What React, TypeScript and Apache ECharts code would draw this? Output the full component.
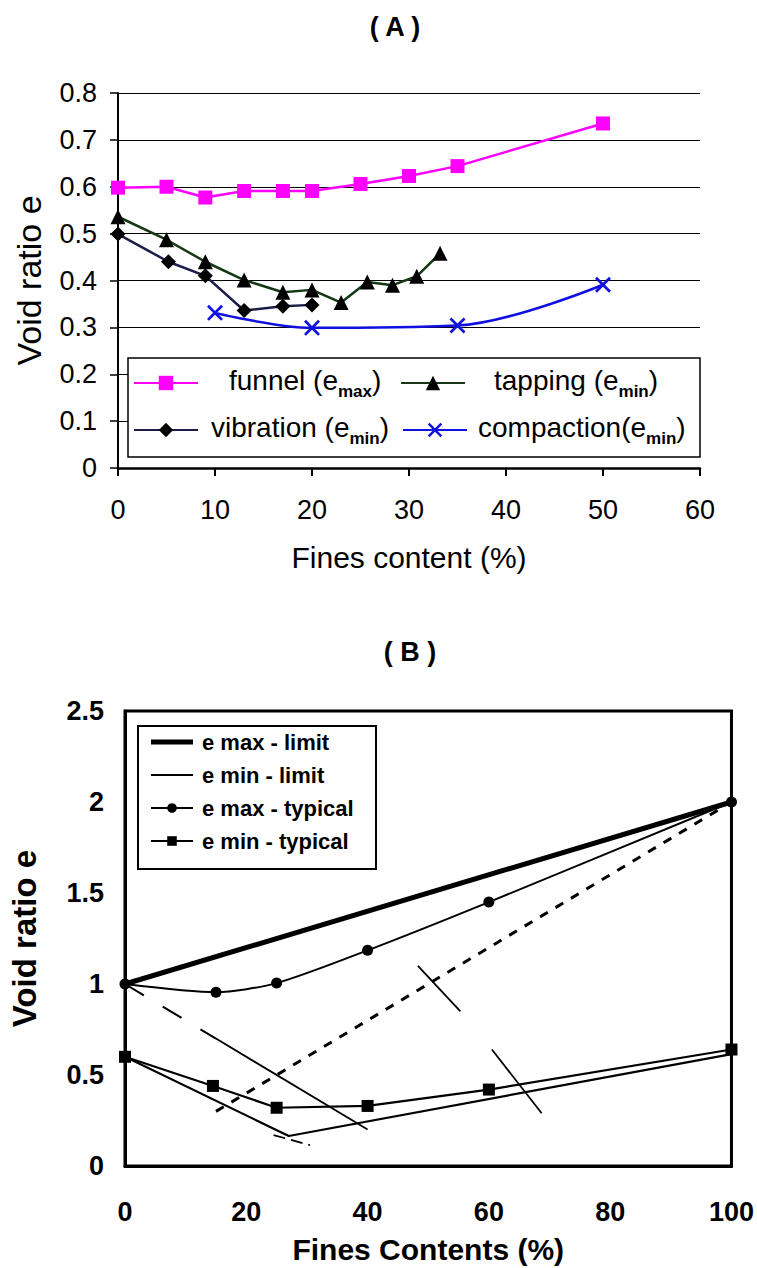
import React, { useEffect, useRef } from 'react';
import * as echarts from 'echarts';

const FONT = "'Liberation Sans', Arial, sans-serif";

// ---------- Panel A data ----------
const funnelX = [0, 5, 9, 13, 17, 20, 25, 30, 35, 50];
const funnelY = [0.598, 0.6, 0.577, 0.591, 0.591, 0.591, 0.606, 0.623, 0.644, 0.735];
const tappingX = [0, 5, 9, 13, 17, 20, 23, 25.7, 28.3, 30.8, 33.2];
const tappingY = [0.536, 0.487, 0.44, 0.401, 0.375, 0.38, 0.353, 0.397, 0.39, 0.409, 0.458];
const vibrationX = [0, 5.2, 9, 13, 17, 20];
const vibrationY = [0.499, 0.44, 0.41, 0.336, 0.345, 0.348];
const compactionX = [10, 20, 35, 50];
const compactionY = [0.331, 0.299, 0.304, 0.391];
const xTicksA = { min: 0, max: 60, interval: 10 };
const yTicksA = { min: 0, max: 0.8, interval: 0.1 };

// ---------- Panel B data ----------
const emaxLimitX = [0, 100];
const emaxLimitY = [1.0, 2.0];
const eminLimitX = [0, 27, 100];
const eminLimitY = [0.6, 0.165, 0.615];
const emaxTypX = [0, 15, 25, 40, 60, 100];
const emaxTypY = [1.0, 0.955, 1.005, 1.185, 1.45, 2.0];
const eminTypX = [0, 14.5, 25, 40, 60, 100];
const eminTypY = [0.6, 0.44, 0.32, 0.33, 0.42, 0.64];
// hand-drawn construction lines
const riseDashX = [15, 98];
const riseDashY = [0.3, 1.96];
const fallDashX = [0, 15];
const fallDashY = [1.0, 0.7];
const fallSolidX = [15, 40];
const fallSolidY = [0.7, 0.2];
const mark1X = [48.3, 55.3];
const mark1Y = [1.1, 0.85];
const mark2X = [60.5, 68.7];
const mark2Y = [0.64, 0.29];
const mark3X = [24.5, 30.5];
const mark3Y = [0.17, 0.115];
const xTicksB = { min: 0, max: 100, interval: 20 };
const yTicksB = { min: 0, max: 2.5, interval: 0.5 };

const zip = (xs: number[], ys: number[]) => xs.map((x, i) => [x, ys[i]]);

const X_PATH =
  'path://M0,1.2 L1.2,0 L5,3.8 L8.8,0 L10,1.2 L6.2,5 L10,8.8 L8.8,10 L5,6.2 L1.2,10 L0,8.8 L3.8,5 Z';

const richA = {
  sp: { width: 1, fontSize: 28, fontFamily: FONT },
  a: { fontSize: 28, fontFamily: FONT, color: '#000', padding: [0, 0, 6, 0], verticalAlign: 'bottom' },
  b: { fontSize: 17, fontFamily: FONT, color: '#000', verticalAlign: 'bottom', fontWeight: 'bold' },
};

function legendA(name: string, left: number, top: number, label: string, sub: string, pad: number) {
  return {
    data: [name],
    left,
    top,
    itemWidth: 64,
    itemHeight: 18,
    padding: 0,
    formatter: () => `{sp|}{a|${label}}{b|${sub}}{a|)}`,
    textStyle: {
      fontSize: 28,
      fontFamily: FONT,
      color: '#000',
      rich: { ...richA, sp: { ...richA.sp, width: pad } },
    },
  };
}

function lineSeries(name: string, xi: number, data: number[][], extra: any) {
  return {
    name,
    type: 'line',
    xAxisIndex: xi,
    yAxisIndex: xi,
    data,
    ...extra,
  };
}

const option: any = {
  animation: false,
  backgroundColor: '#fff',
  title: [
    {
      text: '( A )',
      left: 390,
      top: 8,
      textAlign: 'center',
      textStyle: { fontSize: 27, fontWeight: 'bold', fontFamily: FONT, color: '#000' },
    },
    {
      text: '( B )',
      left: 405,
      top: 633,
      textAlign: 'center',
      textStyle: { fontSize: 27, fontWeight: 'bold', fontFamily: FONT, color: '#000' },
    },
  ],
  grid: [
    { left: 118, top: 93, width: 582, height: 375, containLabel: false },
    {
      left: 121,
      top: 711,
      width: 613,
      height: 455,
      show: true,
      borderColor: '#000',
      borderWidth: 3,
      backgroundColor: 'transparent',
    },
  ],
  xAxis: [
    {
      type: 'value',
      gridIndex: 0,
      ...xTicksA,
      name: 'Fines content (%)',
      nameLocation: 'middle',
      nameGap: 74,
      nameTextStyle: { fontSize: 30, fontFamily: FONT, color: '#000' },
      axisLine: { lineStyle: { color: '#000', width: 2.5 } },
      axisTick: { show: true, length: 8, lineStyle: { color: '#000', width: 2 } },
      axisLabel: { fontSize: 27, fontFamily: FONT, color: '#000', margin: 28 },
      splitLine: { show: false },
    },
    {
      type: 'value',
      gridIndex: 1,
      ...xTicksB,
      name: 'Fines Contents (%)',
      nameLocation: 'middle',
      nameGap: 68,
      nameTextStyle: { fontSize: 30, fontWeight: 'bold', fontFamily: FONT, color: '#000' },
      axisLine: { lineStyle: { color: '#000', width: 3 } },
      axisTick: { show: false },
      axisLabel: { fontSize: 27, fontWeight: 'bold', fontFamily: FONT, color: '#000', margin: 32 },
      splitLine: { show: false },
    },
  ],
  yAxis: [
    {
      type: 'value',
      gridIndex: 0,
      ...yTicksA,
      name: 'Void ratio e',
      nameLocation: 'middle',
      nameGap: 72,
      nameTextStyle: { fontSize: 34, fontFamily: FONT, color: '#000' },
      axisLine: { show: true, lineStyle: { color: '#000', width: 2 } },
      axisTick: { show: true, length: 8, lineStyle: { color: '#000', width: 1.5 } },
      axisLabel: { fontSize: 27, fontFamily: FONT, color: '#000', margin: 21 },
      splitLine: { show: true, lineStyle: { color: '#000', width: 1.2 } },
    },
    {
      type: 'value',
      gridIndex: 1,
      ...yTicksB,
      name: 'Void ratio e',
      nameLocation: 'middle',
      nameGap: 84,
      nameTextStyle: { fontSize: 33, fontWeight: 'bold', fontFamily: FONT, color: '#000' },
      axisLine: { show: true, lineStyle: { color: '#000', width: 3 } },
      axisTick: { show: false },
      axisLabel: { fontSize: 27, fontWeight: 'bold', fontFamily: FONT, color: '#000', margin: 21 },
      splitLine: { show: false },
    },
  ],
  legend: [
    legendA('funnel', 133, 366, 'funnel (e', 'max', 26),
    legendA('tapping', 400, 366, 'tapping (e', 'min', 24),
    legendA('vibration', 133, 413, 'vibration (e', 'min', 8),
    legendA('compaction', 402, 413, 'compaction(e', 'min', 6),
    {
      data: [
        { name: 'e max - limit', icon: 'path://M0,0H42V5H0Z' },
        { name: 'e min - limit', icon: 'path://M0,0H42V2H0Z' },
        'e max - typical',
        'e min - typical',
      ],
      orient: 'vertical',
      left: 150,
      top: 731,
      padding: 0,
      itemWidth: 42,
      itemHeight: 12,
      itemGap: 11,
      textStyle: { fontSize: 22, fontWeight: 'bold', fontFamily: FONT, color: '#000', lineHeight: 22, padding: [0, 0, 0, 4] },
    },
  ],
  graphic: [
    {
      type: 'rect',
      z: 3,
      shape: { x: 128, y: 358, width: 572, height: 99 },
      style: { fill: '#fff', stroke: '#000', lineWidth: 1.5 },
    },
    {
      type: 'rect',
      z: 3,
      shape: { x: 138, y: 726, width: 238, height: 143 },
      style: { fill: '#fff', stroke: '#000', lineWidth: 2 },
    },
  ],
  series: [
    // ---- Panel A ----
    lineSeries('funnel', 0, zip(funnelX, funnelY), {
      symbol: 'rect',
      symbolSize: 14,
      lineStyle: { color: '#FF00FF', width: 2.5 },
      itemStyle: { color: '#FF00FF' },
    }),
    lineSeries('tapping', 0, zip(tappingX, tappingY), {
      symbol: 'triangle',
      symbolSize: 15,
      lineStyle: { color: '#143814', width: 2.5 },
      itemStyle: { color: '#000' },
    }),
    lineSeries('vibration', 0, zip(vibrationX, vibrationY), {
      symbol: 'diamond',
      symbolSize: 15,
      lineStyle: { color: '#1c1c48', width: 2.5 },
      itemStyle: { color: '#000' },
    }),
    lineSeries('compaction', 0, zip(compactionX, compactionY), {
      symbol: X_PATH,
      symbolSize: 16,
      smooth: 0.35,
      lineStyle: { color: '#1010e0', width: 2.5 },
      itemStyle: { color: '#1010e0' },
    }),
    // ---- Panel B ----
    lineSeries('e max - limit', 1, zip(emaxLimitX, emaxLimitY), {
      symbol: 'none',
      lineStyle: { color: '#000', width: 5 },
      itemStyle: { color: '#000' },
    }),
    lineSeries('e min - limit', 1, zip(eminLimitX, eminLimitY), {
      symbol: 'none',
      lineStyle: { color: '#000', width: 2.2 },
      itemStyle: { color: '#000' },
    }),
    lineSeries('e max - typical', 1, zip(emaxTypX, emaxTypY), {
      symbol: 'circle',
      symbolSize: 11,
      smooth: 0.25,
      lineStyle: { color: '#000', width: 2 },
      itemStyle: { color: '#000' },
    }),
    lineSeries('e min - typical', 1, zip(eminTypX, eminTypY), {
      symbol: 'rect',
      symbolSize: 12,
      lineStyle: { color: '#000', width: 2.2 },
      itemStyle: { color: '#000' },
    }),
    lineSeries('rise', 1, zip(riseDashX, riseDashY), {
      symbol: 'none',
      lineStyle: { color: '#000', width: 3, type: [9, 9] },
    }),
    lineSeries('fallDash', 1, zip(fallDashX, fallDashY), {
      symbol: 'none',
      lineStyle: { color: '#000', width: 2, type: [22, 22] },
    }),
    lineSeries('fallSolid', 1, zip(fallSolidX, fallSolidY), {
      symbol: 'none',
      lineStyle: { color: '#000', width: 1.8 },
    }),
    lineSeries('mark1', 1, zip(mark1X, mark1Y), { symbol: 'none', lineStyle: { color: '#000', width: 1.8 } }),
    lineSeries('mark2', 1, zip(mark2X, mark2Y), { symbol: 'none', lineStyle: { color: '#000', width: 1.8 } }),
    lineSeries('mark3', 1, zip(mark3X, mark3Y), {
      symbol: 'none',
      lineStyle: { color: '#000', width: 1.8, type: [12, 6] },
    }),
  ],
};

export default function App() {
  const ref = useRef<HTMLDivElement>(null);
  useEffect(() => {
    const chart = echarts.init(ref.current!, null, { renderer: 'svg' });
    chart.setOption(option);
    return () => chart.dispose();
  }, []);
  return (
    <div
      ref={ref}
      style={{ position: 'absolute', left: 0, top: 0, width: 757, height: 1268, background: '#fff' }}
    />
  );
}
